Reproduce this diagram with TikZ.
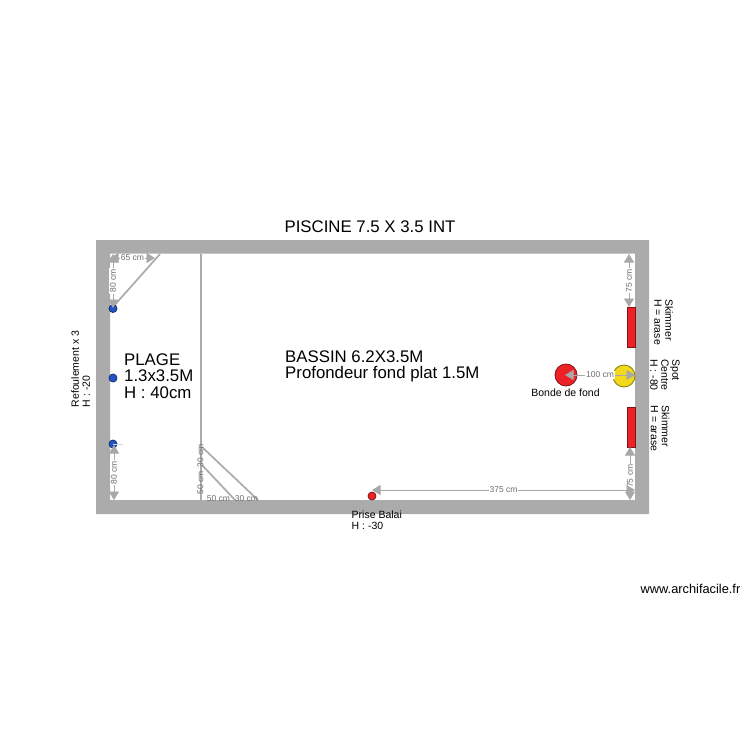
\documentclass[tikz,border=0pt]{standalone}
\usepackage{fontspec}
\setmainfont{Liberation Sans}
\usetikzlibrary{arrows.meta}
\definecolor{wallgray}{HTML}{ABABAB}
\definecolor{dimgray}{HTML}{A8A8A8}
\definecolor{dimtext}{HTML}{6E6E6E}
\definecolor{spotred}{HTML}{EC2227}
\definecolor{spotyellow}{HTML}{F2D91A}
\definecolor{spotblue}{HTML}{2455C8}
\tikzset{
 wallline/.style={fill=wallgray,draw=none,even odd rule},
 partition/.style={draw=wallgray,line width=1.7pt},
 dimline/.style={draw=dimgray,line width=0.9pt,{Triangle[length=8.5pt,width=10pt,fill=dimgray]}-{Triangle[length=8.5pt,width=10pt,fill=dimgray]}},
 dimtxt/.style={font=\fontsize{8.5}{8.5}\selectfont,text=dimtext,fill=white,inner sep=1pt},
 dimtxtr/.style={dimtxt,rotate=90},
 label1/.style={font=\fontsize{16.8}{16.5}\selectfont,align=left,inner sep=0pt,anchor=north west},
 label2/.style={font=\fontsize{10.5}{11}\selectfont,align=left,inner sep=0pt},
 fitting/.style={circle,draw=#1!55!black,line width=0.8pt,fill=#1,inner sep=0pt},
 skimmer/.style={draw=spotred!55!black,line width=0.6pt,fill=spotred,inner sep=0pt,minimum width=8pt,minimum height=40pt},
}
\begin{document}
\begin{tikzpicture}[x=1pt,y=-1pt]
\useasboundingbox (0,0) rectangle (750,750);
\fill[white] (0,0) rectangle (750,750);
\fill[wallline] (96,240) rectangle (649,514) (110,253.5) rectangle (635,500);
% partitions
\coordinate (pA) at (200.7,254);
\coordinate (pB) at (200.7,500);
\draw[partition] (pA) -- (pB);
\coordinate (d1a) at (160,254);
\coordinate (d1b) at (112,308);
\draw[partition] (d1a) -- (d1b);
\coordinate (d2a) at (202,447);
\coordinate (d2b) at (258,500);
\draw[partition] (d2a) -- (d2b);
\coordinate (d3a) at (202,465);
\coordinate (d3b) at (235,500);
\draw[partition] (d3a) -- (d3b);
% fittings
\node[skimmer] (sk1) at (631,327) {};
\node[skimmer] (sk2) at (631,427) {};
\node[fitting=spotred,minimum size=22pt] (bonde) at (566,375) {};
\node[fitting=spotyellow,minimum size=22pt] (spot) at (624,376) {};
\node[fitting=spotred,minimum size=8pt] (balai) at (372,496) {};
\node[fitting=spotblue,minimum size=8pt] (ref1) at (113,308.5) {};
\node[fitting=spotblue,minimum size=8pt] (ref2) at (113,378) {};
\node[fitting=spotblue,minimum size=8pt] (ref3) at (113,444) {};
% dimensions
\coordinate (a1) at (110,258);
\coordinate (a2) at (155,258);
\draw[dimline] (a1) -- node[dimtxt]{65 cm} (a2);
\coordinate (b1) at (113,254);
\coordinate (b2) at (113,308);
\draw[dimline] (b1) -- node[dimtxtr]{80 cm} (b2);
\coordinate (c1) at (114,445);
\coordinate (c2) at (114,500);
\draw[dimline] (c1) -- node[dimtxtr]{80 cm} (c2);
\draw[dimgray!50,line width=0.5pt] (ref3.center) -- (123,444);
\coordinate (e1) at (629,254);
\coordinate (e2) at (629,307);
\draw[dimline] (e1) -- node[dimtxtr]{75 cm} (e2);
\coordinate (f1) at (630,447);
\coordinate (f2) at (630,500);
\draw[dimline] (f1) -- node[dimtxtr,pos=.55]{75 cm} (f2);
\coordinate (g1) at (565,375);
\coordinate (g2) at (635,375);
\draw[dimline] (g1) -- node[dimtxt]{100 cm} (g2);
\coordinate (h1) at (372,490);
\coordinate (h2) at (635,490);
\draw[dimline] (h1) -- node[dimtxt]{375 cm} (h2);
\node[dimtxtr,fill=none] (t30) at (200.5,456) {30 cm};
\node[dimtxtr,fill=none] (t50) at (200.5,483) {50 cm};
\node[dimtxt,fill=none] (h50) at (218.5,498.5) {50 cm};
\node[dimtxt,fill=none] (h30) at (246.5,498.5) {30 cm};
% labels
\node[font=\fontsize{16.8}{18}\selectfont,inner sep=0pt] (title) at (370,227) {PISCINE 7.5 X 3.5 INT};
\node[label1] (plage) at (124,353.5) {PLAGE\\1.3x3.5M\\H : 40cm};
\node[label1] (bassin) at (285,350.5) {BASSIN 6.2X3.5M\\Profondeur fond plat 1.5M};
\node[label2,anchor=center] (bondetxt) at (565.5,393) {Bonde de fond};
\node[label2,anchor=north west] (balaitxt) at (351.5,511) {Prise Balai\\H : -30};
\node[label2,rotate=90,anchor=center] (reftxt) at (80.5,369) {Refoulement x 3\\H : -20};
\node[label2,rotate=-90,anchor=center] (sk1txt) at (663.5,322) {Skimmer\\H = arase};
\node[label2,rotate=-90,anchor=center] (sk2txt) at (660,428.5) {Skimmer\\H = arase};
\node[label2,rotate=-90,anchor=center] (spottxt) at (665,375) {Spot\\Centre\\H : -80};
\node[font=\fontsize{12.8}{14}\selectfont,inner sep=0pt] (brand) at (690.5,589) {www.archifacile.fr};
\end{tikzpicture}
\end{document}
